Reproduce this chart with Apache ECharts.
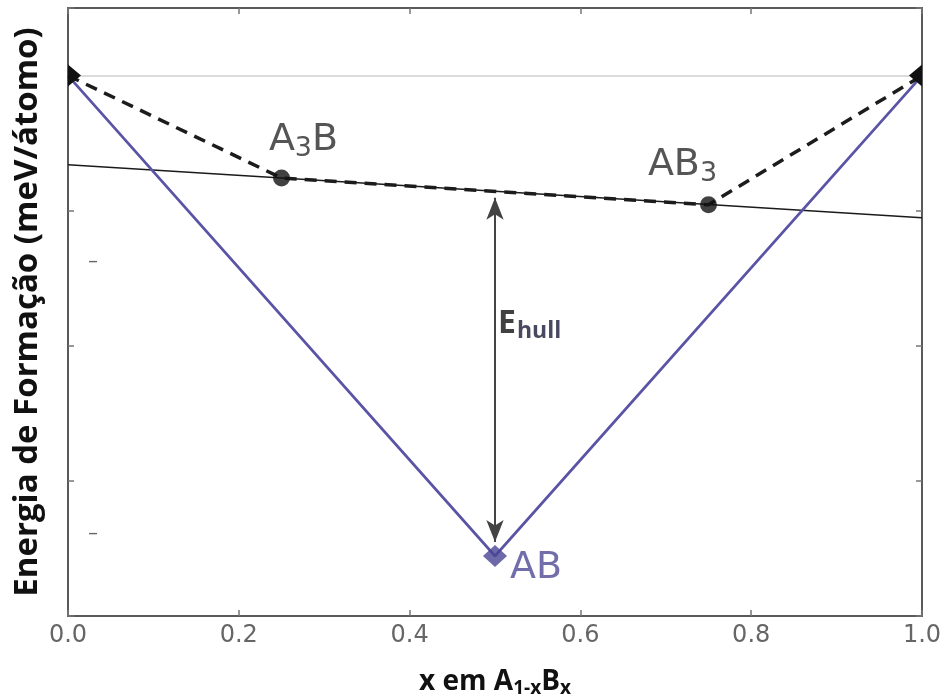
<!DOCTYPE html>
<html>
<head>
<meta charset="utf-8">
<script src="https://cdn.jsdelivr.net/npm/echarts@6/dist/echarts.min.js"></script>
<style>
html,body{margin:0;padding:0;background:#fff;}
#c{width:951px;height:697px;}
</style>
</head>
<body>
<div id="c"></div>
<script>
// ---- data ----
const xTickValues = [0, 0.2, 0.4, 0.6, 0.8, 1.0];
const xTickLabels = ['0.0', '0.2', '0.4', '0.6', '0.8', '1.0'];
const endpointX = [0, 1];
const endpointY = [0, 0];
const hullX = [0, 0.25, 0.75, 1];
const hullY = [0, -37.9, -47.8, 0];
const abX = [0, 0.5, 1];
const abY = [0, -177.8, 0];
const refLineX = [0, 1];
const refLineY = [-33, -52.6];
const arrowX = [0.5, 0.5];
const arrowY = [-45.2, -172.6];
const ehullPos = [0.5, -92];

const zip = (xs, ys) => xs.map((x, i) => [x, ys[i]]);

const chart = echarts.init(document.getElementById('c'), null, {renderer: 'canvas'});

const axisLineStyle = {color: '#5a5a5a', width: 2};
const tickStyle = {color: '#777', width: 1.5};

const option = {
  backgroundColor: '#ffffff',
  animation: false,
  grid: {left: 68, right: 29, top: 8, bottom: 81, show: false, containLabel: false, outerBoundsMode: 'none'},
  xAxis: [{
    type: 'value', min: 0, max: 1, interval: 0.2, position: 'bottom',
    axisLine: {show: true, onZero: false, lineStyle: axisLineStyle},
    axisTick: {show: true, inside: true, length: 6, lineStyle: tickStyle},
    splitLine: {show: false},
    axisLabel: {
      color: '#666', fontFamily: 'DejaVu Sans', fontSize: 24, margin: 8,
      formatter: v => {
        const i = xTickValues.findIndex(t => Math.abs(t - v) < 1e-9);
        return i >= 0 ? xTickLabels[i] : '';
      }
    },
    name: '{t|x em A}{s|1-x}{t|B}{s|x}',
    nameLocation: 'middle', nameGap: 51,
    nameTextStyle: {
      rich: {
        t: {fontFamily: 'Open Sans', fontWeight: 'bold', fontSize: 28, color: '#111'},
        s: {fontFamily: 'Open Sans', fontWeight: 'bold', fontSize: 19, color: '#111', padding: [12, 0, 0, 0]}
      }
    }
  }, {
    type: 'value', min: 0, max: 1, interval: 0.2, position: 'top',
    axisLine: {show: true, onZero: false, lineStyle: axisLineStyle},
    axisTick: {show: true, inside: true, length: 6, lineStyle: tickStyle},
    axisLabel: {show: false}, splitLine: {show: false}
  }],
  yAxis: [{
    type: 'value', min: -200, max: 25, interval: 50, position: 'left',
    axisLine: {show: true, onZero: false, lineStyle: axisLineStyle},
    axisTick: {show: true, inside: true, length: 6, lineStyle: tickStyle},
    axisLabel: {show: false}, splitLine: {show: false},
    name: 'Energia de Formação (meV/átomo)',
    nameLocation: 'middle', nameGap: 24, nameRotate: 90,
    nameTextStyle: {fontFamily: 'Open Sans', fontWeight: 'bold', fontSize: 33, color: '#111'}
  }, {
    type: 'value', min: -200, max: 25, interval: 50, position: 'right',
    axisLine: {show: true, onZero: false, lineStyle: axisLineStyle},
    axisTick: {show: true, inside: true, length: 6, lineStyle: tickStyle},
    axisLabel: {show: false}, splitLine: {show: false}
  }],
  series: [
    {
      type: 'line', name: 'ref', data: zip(refLineX, refLineY),
      symbol: 'none', lineStyle: {color: '#1a1a1a', width: 1.5}, z: 2,
      markLine: {
        silent: true, symbol: ['none', 'none'],
        lineStyle: {color: '#dcdcdc', width: 2, type: 'solid'},
        label: {show: false},
        data: [{yAxis: 0}]
      }
    },
    {
      type: 'line', name: 'AB', data: zip(abX, abY),
      symbol: 'none', lineStyle: {color: '#5a54a4', width: 2.7}, z: 3
    },
    {
      type: 'line', name: 'hull', data: zip(hullX, hullY),
      symbol: 'none', lineStyle: {color: '#1c1c1c', width: 3.5, type: [12, 8]}, z: 4
    },
    {
      type: 'scatter', name: 'hullpts', z: 6,
      data: [
        {value: [hullX[1], hullY[1]], label: {show: true, position: 'top', offset: [22, -2], formatter: '{b|A}{s|3}{b|B}'}},
        {value: [hullX[2], hullY[2]], label: {show: true, position: 'top', offset: [-26, -4], formatter: '{b|AB}{s|3}'}}
      ],
      symbol: 'circle', symbolSize: 17,
      itemStyle: {color: '#111'},
      label: {
        rich: {
          b: {fontFamily: 'DejaVu Sans', fontSize: 38, color: '#2a2a2a'},
          s: {fontFamily: 'DejaVu Sans', fontSize: 27, color: '#2a2a2a', padding: [18, 0, 0, 0]}
        }
      }
    },
    {
      type: 'scatter', name: 'ABpt', z: 6,
      data: [[abX[1], abY[1]]],
      symbol: 'diamond', symbolSize: [24, 22],
      itemStyle: {color: '#4a4593'},
      label: {show: true, position: 'right', offset: [-2, 12], formatter: 'AB',
        fontFamily: 'DejaVu Sans', fontSize: 38, color: '#4e4a96'}
    },
    {
      type: 'custom', name: 'ends', z: 6, clip: false,
      data: zip(endpointX, endpointY),
      renderItem: (params, api) => {
        const p = api.coord([api.value(0), api.value(1)]);
        const dir = api.value(0) < 0.5 ? 1 : -1;
        const w = 13, h = 11;
        return {
          type: 'polygon',
          shape: {points: [[p[0], p[1] - h], [p[0] + dir * w, p[1]], [p[0], p[1] + h]]},
          style: {fill: '#111'}
        };
      }
    },
    {
      type: 'scatter', name: 'ehull', z: 7,
      data: [ehullPos], symbolSize: 0,
      label: {show: true, position: 'right', distance: 3, offset: [0, 0],
        formatter: '{e|E}{h|hull}',
        rich: {
          e: {fontFamily: 'Open Sans', fontWeight: 'bold', fontSize: 32, color: '#111'},
          h: {fontFamily: 'Open Sans', fontWeight: 'bold', fontSize: 23, color: '#1a1a3a', padding: [14, 0, 0, 1]}
        }
      }
    },
    {
      type: 'line', name: 'arrow', data: [], z: 5,
      markLine: {
        silent: true,
        symbol: ['arrow', 'arrow'], symbolSize: [13, 22],
        lineStyle: {color: '#444', width: 2, type: 'solid'},
        label: {show: false},
        data: [[{coord: [arrowX[0], arrowY[0]]}, {coord: [arrowX[1], arrowY[1]]}]]
      }
    }
  ],
  graphic: [
    {type: 'text', left: 88, top: 252, style: {text: '–', fill: '#666', font: '20px DejaVu Sans'}},
    {type: 'text', left: 88, top: 524, style: {text: '–', fill: '#666', font: '20px DejaVu Sans'}}
  ]
};
chart.setOption(option);
</script>
</body>
</html>
